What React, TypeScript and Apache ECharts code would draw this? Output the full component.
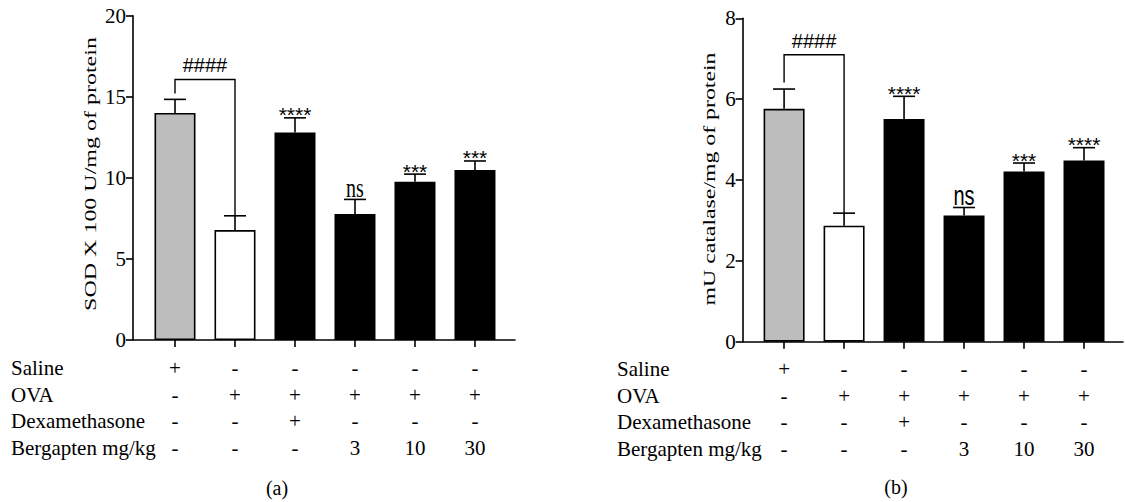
import React, { useEffect, useRef } from 'react';
import * as echarts from 'echarts';

// ---------- data ----------
const groupNames = ['Saline', 'OVA', 'Dexamethasone', 'Bergapten mg/kg'];
const salineRow = ['+', '-', '-', '-', '-', '-'];
const ovaRow = ['-', '+', '+', '+', '+', '+'];
const dexRow = ['-', '-', '+', '-', '-', '-'];
const bergaptenRow = ['-', '-', '-', '3', '10', '30'];

const sodMean = [14.0, 6.78, 12.8, 7.77, 9.76, 10.48];
const sodSem = [0.84, 0.88, 0.9, 0.9, 0.47, 0.56];
const sodSig = ['', '', '****', 'ns', '***', '***'];
const sodBracket = { top: 16.07, leftBottom: 15.2, label: '####' };

const catMean = [5.76, 2.87, 5.51, 3.12, 4.21, 4.48];
const catSem = [0.49, 0.31, 0.56, 0.2, 0.21, 0.32];
const catSig = ['', '', '****', 'ns', '***', '****'];
const catBracket = { top: 7.1, leftBottom: 6.41, label: '####' };

const sodTitle = 'SOD X 100 U/mg of protein';
const catTitle = 'mU catalase/mg of protein';
const panelLabels = ['(a)', '(b)'];

// ---------- styles ----------
const SERIF = '"Liberation Serif", "Times New Roman", serif';
const SANS = '"Liberation Sans", Arial, sans-serif';
const barColors = ['#bdbdbd', '#ffffff', '#000000', '#000000', '#000000', '#000000'];

const idx = [0, 1, 2, 3, 4, 5];

function columnText(v: number) {
  const i = Math.round(v);
  return [salineRow[i], ovaRow[i], dexRow[i], bergaptenRow[i]].join('\n');
}

function buildPanel(p: number, means: number[], sems: number[], sigs: string[], bracket: any, nsFont: string) {
  const bars = {
    type: 'bar',
    xAxisIndex: p,
    yAxisIndex: p,
    barWidth: 41,
    itemStyle: { borderColor: '#000', borderWidth: 1.6 },
    data: means.map((v, i) => ({ value: [i, v], itemStyle: { color: barColors[i] } })),
    z: 2,
  };
  const errors = {
    type: 'custom',
    xAxisIndex: p,
    yAxisIndex: p,
    encode: { x: 0, y: [1, 2] },
    z: 3,
    data: means.map((v, i) => [i, v, v + sems[i]]),
    renderItem: (params: any, api: any) => {
      const i = params.dataIndex;
      const x = api.value(0);
      const p0 = api.coord([x, api.value(1)]);
      const p1 = api.coord([x, api.value(2)]);
      const ls = { stroke: '#000', lineWidth: 1.6 };
      const children: any[] = [
        { type: 'line', shape: { x1: p0[0], y1: p0[1], x2: p1[0], y2: p1[1] }, style: ls },
        { type: 'line', shape: { x1: p1[0] - 11, y1: p1[1], x2: p1[0] + 11, y2: p1[1] }, style: ls },
      ];
      const s = sigs[i];
      if (s) {
        const isNs = s === 'ns';
        children.push({
          type: 'text',
          x: p1[0],
          y: p1[1] - (isNs ? 12 : 3),
          scaleY: isNs ? 1.35 : 1,
          style: {
            text: s,
            fill: '#000',
            fontSize: isNs ? 20 : 21,
            fontFamily: isNs ? nsFont : SANS,
            align: 'center',
            verticalAlign: 'middle',
            textAlign: 'center',
            textVerticalAlign: 'middle',
          },
        });
      }
      return { type: 'group', children };
    },
  };
  const br = {
    type: 'custom',
    xAxisIndex: p,
    yAxisIndex: p,
    encode: { x: 0, y: 1 },
    z: 3,
    data: [[0, bracket.top]],
    renderItem: (params: any, api: any) => {
      const rightBottom = means[1] + sems[1];
      const a = api.coord([0, bracket.leftBottom]);
      const b = api.coord([0, bracket.top]);
      const c = api.coord([1, bracket.top]);
      const d = api.coord([1, rightBottom]);
      return {
        type: 'group',
        children: [
          {
            type: 'polyline',
            shape: { points: [a, b, c, d] },
            style: { stroke: '#000', lineWidth: 1.4, fill: null },
          },
          {
            type: 'text',
            x: (b[0] + c[0]) / 2,
            y: b[1] - 14,
            style: {
              text: bracket.label,
              fill: '#000',
              fontSize: 20,
              fontFamily: SANS,
              align: 'center',
              verticalAlign: 'middle',
              textAlign: 'center',
              textVerticalAlign: 'middle',
            },
          },
        ],
      };
    },
  };
  return [bars, errors, br];
}

function xAxisCfg(p: number, min: number, max: number, margin: number) {
  return {
    type: 'value',
    gridIndex: p,
    min,
    max,
    splitLine: { show: false },
    axisLine: { show: true, onZero: false, lineStyle: { color: '#000', width: 1.6 } },
    axisTick: { show: true, customValues: idx, length: 7, lineStyle: { color: '#000', width: 1.6 } },
    axisLabel: {
      show: true,
      customValues: idx,
      formatter: (v: number) => columnText(v),
      margin,
      color: '#000',
      fontSize: 21,
      fontFamily: SERIF,
      lineHeight: 26.7,
    },
  };
}

function yAxisCfg(p: number, max: number, interval: number) {
  return {
    type: 'value',
    gridIndex: p,
    min: 0,
    max,
    interval,
    splitLine: { show: false },
    axisLine: { show: true, onZero: false, lineStyle: { color: '#000', width: 1.6 } },
    axisTick: { show: true, length: 7, lineStyle: { color: '#000', width: 1.6 } },
    axisLabel: { margin: 7, color: '#000', fontSize: 21, fontFamily: SERIF },
  };
}

function textEl(text: string, x: number, y: number, align: string, extra: any = {}, size = 21) {
  return {
    type: 'text',
    x,
    y,
    ...extra,
    style: {
      text,
      fill: '#000',
      fontSize: size,
      fontFamily: SERIF,
      align,
      verticalAlign: 'middle',
      textAlign: align,
      textVerticalAlign: 'middle',
    },
  };
}

export default function App() {
  const ref = useRef<HTMLDivElement>(null);
  useEffect(() => {
    if (!ref.current) return;
    const chart = echarts.init(ref.current, undefined, { renderer: 'svg' });
    const rowY = [368, 394.7, 421.4, 448.1];
    const graphics: any[] = [];
    groupNames.forEach((g, r) => {
      graphics.push(textEl(g, 11, rowY[r], 'left'));
      graphics.push(textEl(g, 617, rowY[r] + 1, 'left'));
    });
    graphics.push(textEl(sodTitle, 90, 174, 'center', { rotation: Math.PI / 2, scaleX: 1.2, scaleY: 0.85 }, 20));
    graphics.push(textEl(catTitle, 709, 179, 'center', { rotation: Math.PI / 2, scaleX: 1.19, scaleY: 0.85 }, 20));
    graphics.push(textEl(panelLabels[0], 277, 488, 'center', {}, 20));
    graphics.push(textEl(panelLabels[1], 896, 487, 'center', {}, 20));

    const option: any = {
      animation: false,
      backgroundColor: '#ffffff',
      grid: [
        { left: 133, right: 1125 - 515, top: 15.7, bottom: 502 - 340 },
        { left: 742.7, right: 2, top: 18.3, bottom: 502 - 341.7 },
      ],
      xAxis: [xAxisCfg(0, -0.7, 5.667, 14.6), xAxisCfg(1, -0.69, 5.65, 14)],
      yAxis: [yAxisCfg(0, 20, 5), yAxisCfg(1, 8, 2)],
      series: [
        ...buildPanel(0, sodMean, sodSem, sodSig, sodBracket, SERIF),
        ...buildPanel(1, catMean, catSem, catSig, catBracket, SANS),
      ],
      graphic: graphics,
    };
    chart.setOption(option);
    return () => chart.dispose();
  }, []);
  return (
    <div
      ref={ref}
      style={{ position: 'fixed', left: 0, top: 0, width: 1125, height: 502, background: '#fff' }}
    />
  );
}
